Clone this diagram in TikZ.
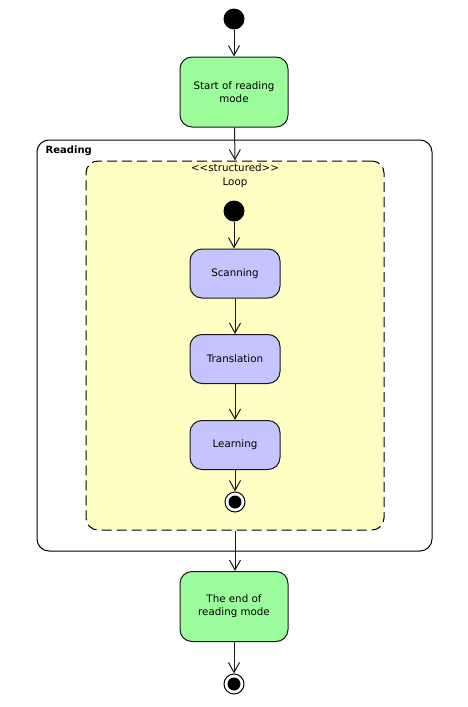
\documentclass[tikz,border=0pt]{standalone}
\usepackage{fontspec}
\setmainfont{DejaVu Sans}
\usetikzlibrary{arrows.meta}
\definecolor{actgreen}{RGB}{155,252,155}
\definecolor{actblue}{RGB}{196,196,255}
\definecolor{loopyellow}{RGB}{255,255,196}
\definecolor{edge}{RGB}{24,24,24}
\begin{document}
\begin{tikzpicture}[x=1pt,y=-1pt,
  every node/.style={font=\fontsize{10.3}{12.8}\selectfont, inner sep=0pt},
  greenbox/.style={draw=edge, line width=1pt, fill=actgreen, rounded corners=12pt,
    minimum width=108pt, minimum height=70pt, align=center},
  bluebox/.style={draw=edge, line width=1pt, fill=actblue, rounded corners=12pt,
    minimum width=90pt, minimum height=49pt, align=center},
  startdot/.style={circle, fill=black, minimum size=21pt},
  enddot/.style={circle, draw=black, line width=1pt, fill=white, minimum size=20pt,
    path picture={\fill[black] (path picture bounding box.center) circle (6.5pt);}},
  flow/.style={draw=edge, line width=1pt, -{Straight Barb[length=10pt,width=11pt,line width=1pt]}}
]
\useasboundingbox (0,0) rectangle (468,707);
\fill[white] (0,0) rectangle (468,707);

\node[startdot] (start) at (234,19) {};
\node[greenbox] (startbox) at (234,92) {Start of reading\\mode};

\node[draw=black, line width=1pt, rounded corners=12pt, minimum width=395pt, minimum height=411pt] (reading) at (234.5,345.5) {};
\node[anchor=north west, font=\bfseries\fontsize{10}{12}\selectfont] (readinglabel) at ([shift={(9,6)}]reading.north west) {Reading};

\node[draw=black, line width=1pt, dash pattern=on 10pt off 5pt, fill=loopyellow, rounded corners=12pt, minimum width=298pt, minimum height=369pt] (loop) at (235,345.5) {};
\node[anchor=north, align=center, font=\fontsize{10.3}{14}\selectfont] (looplabel) at ([yshift=-2.5pt]loop.north) {<{}<structured>{}>\\Loop};

\node[startdot] (istart) at (234,211) {};
\node[bluebox] (scan) at (235,273.5) {Scanning};
\node[bluebox] (trans) at (235,359) {Translation};
\node[bluebox] (learn) at (235,445) {Learning};
\node[enddot] (iend) at (235,502) {};

\node[greenbox] (endbox) at (234,606.5) {The end of\\reading mode};
\node[enddot] (fend) at (234,684) {};

\draw[flow] (start) -- (startbox);
\draw[flow] (startbox) -- (loop.north);
\draw[flow] (istart) -- (istart |- scan.north);
\draw[flow] (scan) -- (trans);
\draw[flow] (trans) -- (learn);
\draw[flow] (learn) -- (iend);
\draw[flow] (loop.south) -- (loop.south |- endbox.north);
\draw[flow] (endbox) -- (fend);
\end{tikzpicture}
\end{document}
